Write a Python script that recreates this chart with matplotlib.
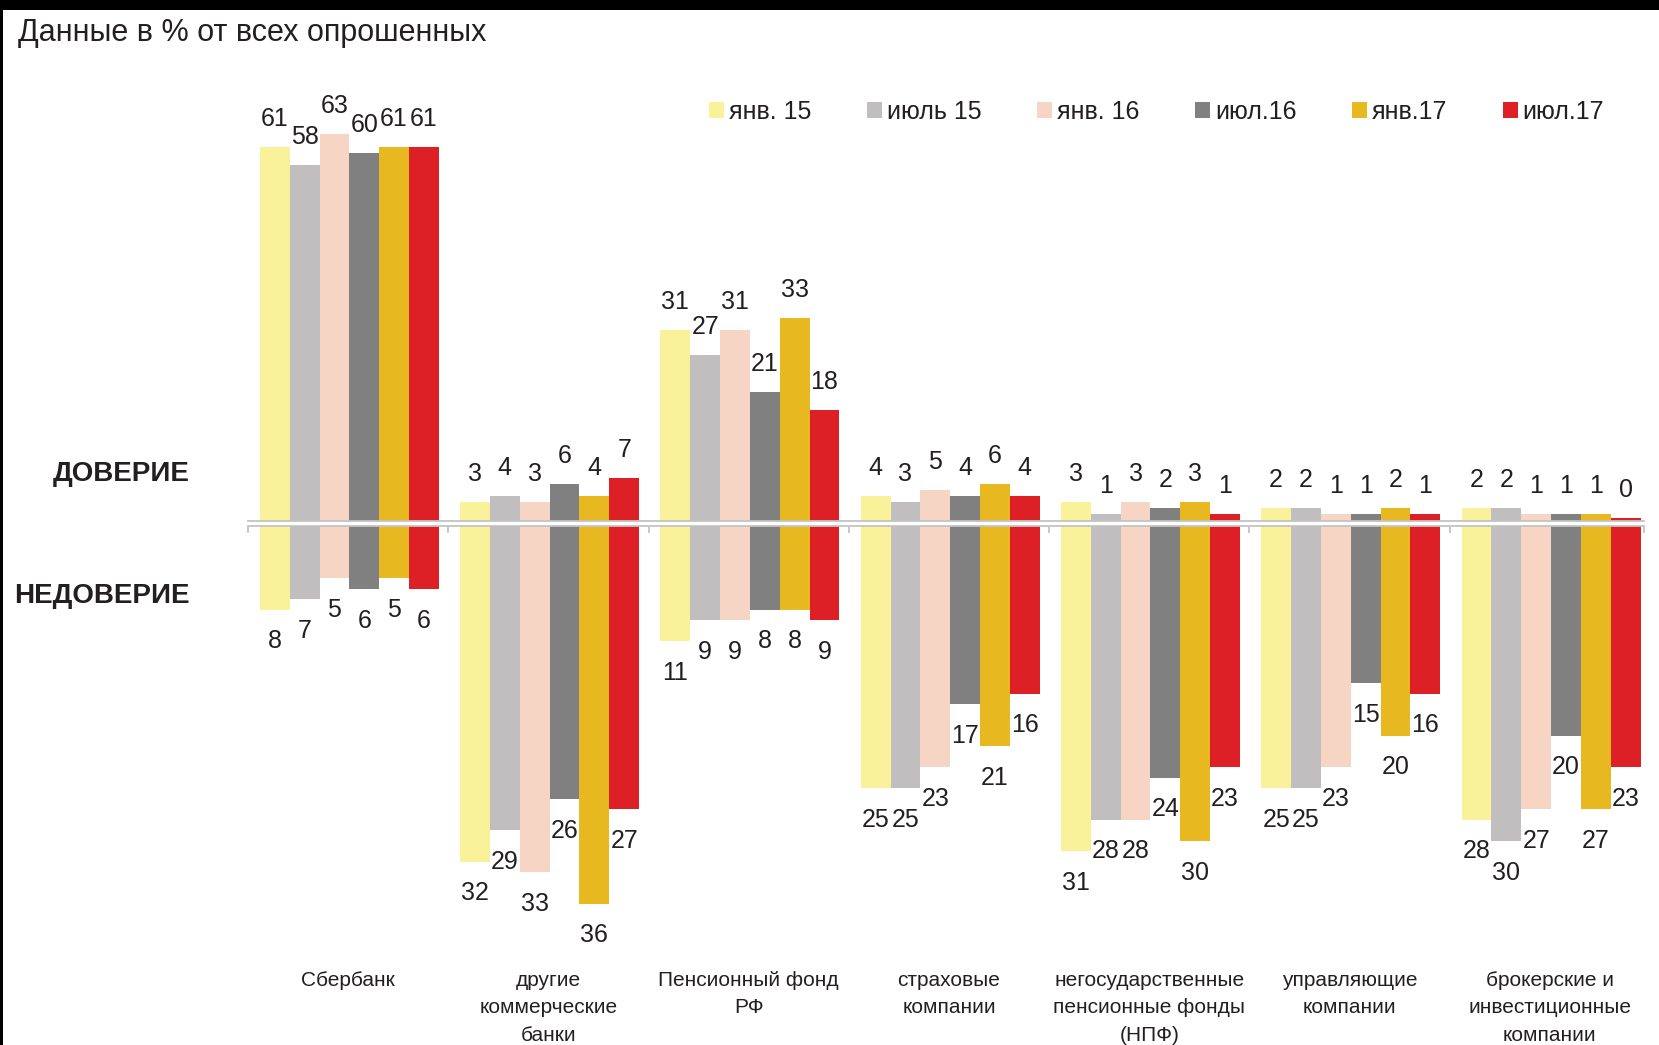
import matplotlib
matplotlib.use("Agg")
import matplotlib.pyplot as plt
from matplotlib.patches import Rectangle
import numpy as np

plt.rcParams["font.family"] = ["Liberation Sans Narrow", "Liberation Sans", "DejaVu Sans"]

categories = [
    "Сбербанк",
    "другие\nкоммерческие\nбанки",
    "Пенсионный фонд\nРФ",
    "страховые\nкомпании",
    "негосударственные\nпенсионные фонды\n(НПФ)",
    "управляющие\nкомпании",
    "брокерские и\nинвестиционные\nкомпании",
]
periods = ["янв. 15", "июль 15", "янв. 16", "июл.16", "янв.17", "июл.17"]
colors = ["#F9F29A", "#C0BEBF", "#F6D5C5", "#808080", "#E8B820", "#DD1F26"]

# ДОВЕРИЕ (trust), % of respondents
trust_jan15 = [61, 3, 31, 4, 3, 2, 2]
trust_jul15 = [58, 4, 27, 3, 1, 2, 2]
trust_jan16 = [63, 3, 31, 5, 3, 1, 1]
trust_jul16 = [60, 6, 21, 4, 2, 1, 1]
trust_jan17 = [61, 4, 33, 6, 3, 2, 1]
trust_jul17 = [61, 7, 18, 4, 1, 1, 0.4]

# НЕДОВЕРИЕ (distrust), % of respondents
distrust_jan15 = [8, 32, 11, 25, 31, 25, 28]
distrust_jul15 = [7, 29, 9, 25, 28, 25, 30]
distrust_jan16 = [5, 33, 9, 23, 28, 23, 27]
distrust_jul16 = [6, 26, 8, 17, 24, 15, 20]
distrust_jan17 = [5, 36, 8, 21, 30, 20, 27]
distrust_jul17 = [6, 27, 9, 16, 23, 16, 23]

trust = [trust_jan15, trust_jul15, trust_jan16, trust_jul16, trust_jan17, trust_jul17]
distrust = [distrust_jan15, distrust_jul15, distrust_jan16, distrust_jul16, distrust_jan17, distrust_jul17]

W, H = 1659, 1045
def fy(px):
    return 1 - px / H

TXT = "#231F20"
GRID = "#C4C4C4"

fig = plt.figure(figsize=(W / 100, H / 100), dpi=100)

left_px, right_px = 248, 1644
zero_pos_px, top_pos_px = 520.5, 70
zero_neg_px, bot_neg_px = 525.5, 960
pos_scale, neg_scale = 6.13, 10.5

ax_pos = fig.add_axes([left_px / W, fy(zero_pos_px), (right_px - left_px) / W, (zero_pos_px - top_pos_px) / H])
ax_neg = fig.add_axes([left_px / W, fy(bot_neg_px), (right_px - left_px) / W, (bot_neg_px - zero_neg_px) / H])

ax_pos.set_ylim(0, (zero_pos_px - top_pos_px) / pos_scale)
ax_neg.set_ylim(-(bot_neg_px - zero_neg_px) / neg_scale, 0)
for ax in (ax_pos, ax_neg):
    ax.set_xlim(-0.5, 6.47)
    ax.set_facecolor("none")
    ax.set_yticks([])
    for s in ax.spines.values():
        s.set_visible(False)

x = np.arange(len(categories))
bw = 0.149
handles = []
for j in range(len(periods)):
    xs = x + (j - 2.5) * bw + 0.006
    b = ax_pos.bar(xs, trust[j], width=bw, color=colors[j], linewidth=0, zorder=2)
    handles.append(b)
    ax_neg.bar(xs, [-v for v in distrust[j]], width=bw, color=colors[j], linewidth=0, zorder=2)
    for xi, v in zip(xs, trust[j]):
        ax_pos.annotate(f"{round(v):d}", (xi, v), xytext=(0, 28), textcoords="offset pixels",
                        ha="center", va="center", fontsize=18, color=TXT, annotation_clip=False)
    for xi, v in zip(xs, distrust[j]):
        ax_neg.annotate(f"{round(v):d}", (xi, -v), xytext=(0, -32), textcoords="offset pixels",
                        ha="center", va="center", fontsize=18, color=TXT, annotation_clip=False)

# double axis line
ax_pos.spines["bottom"].set_visible(True)
ax_pos.spines["bottom"].set_color(GRID)
ax_pos.spines["bottom"].set_linewidth(1.3)
ax_pos.spines["bottom"].set_zorder(3)
ax_pos.set_xticks([])
ax_neg.spines["top"].set_visible(True)
ax_neg.spines["top"].set_color(GRID)
ax_neg.spines["top"].set_linewidth(1.3)
ax_neg.spines["top"].set_zorder(3)

ax_neg.set_xticks(x)
ax_neg.set_xticklabels(categories, fontsize=15, color=TXT, linespacing=1.55)
ax_neg.tick_params(axis="x", which="major", length=0, pad=8)
ax_neg.set_xticks(list(np.arange(-0.5, 6, 1)) + [6.47], minor=True)
ax_neg.tick_params(axis="x", which="minor", top=True, bottom=False, direction="in",
                   length=5, width=1.3, color=GRID)

# left labels
fig.text(190 / W, fy(474), "ДОВЕРИЕ", ha="right", va="center", fontsize=20,
         fontweight="bold", color=TXT)
fig.text(190 / W, fy(596), "НЕДОВЕРИЕ", ha="right", va="center", fontsize=20,
         fontweight="bold", color=TXT)

# title
fig.text(18 / W, fy(33), "Данные в % от всех опрошенных", ha="left", va="center",
         fontsize=22, color=TXT)

# legend
fig.legend(handles, periods, ncol=6, loc="center left", bbox_to_anchor=(709 / W, fy(112)),
           frameon=False, fontsize=18, handlelength=0.6, handleheight=0.6,
           handletextpad=0.2, columnspacing=2.22, borderpad=0, borderaxespad=0,
           labelcolor=TXT)

# black frame strips
fig.patches.append(Rectangle((0, fy(10)), 1, 10 / H, transform=fig.transFigure,
                             facecolor="black", edgecolor="none", zorder=10))
fig.patches.append(Rectangle((0, 0), 3 / W, 1, transform=fig.transFigure,
                             facecolor="black", edgecolor="none", zorder=10))

fig.savefig("out.png", dpi=100, facecolor="white")
